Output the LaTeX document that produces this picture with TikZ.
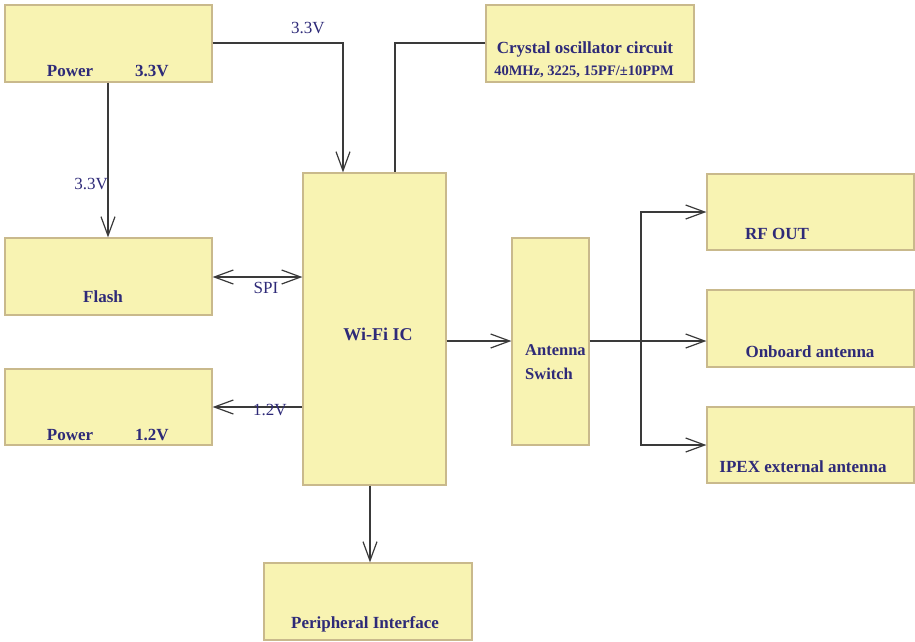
\documentclass[tikz,border=0pt]{standalone}
\usepackage{fontspec}
\setmainfont{Liberation Serif}
\usetikzlibrary{arrows.meta}
\definecolor{boxfill}{HTML}{F8F3B2}
\definecolor{boxline}{HTML}{C9B98C}
\definecolor{txt}{HTML}{2E2A78}
\definecolor{wire}{HTML}{3A3A3A}
\tikzset{
  blk/.style={draw=boxline, fill=boxfill, line width=1.2pt, inner sep=0pt},
  lbl/.style={text=txt, font=\bfseries\fontsize{17}{19}\selectfont, inner sep=0pt},
  wirelbl/.style={text=txt, font=\fontsize{17}{19}\selectfont, inner sep=0pt},
  wirestyle/.style={draw=wire, line width=1.2pt},
  tip/.style={-{Straight Barb[length=19pt,width=14pt]}},
  tips/.style={{Straight Barb[length=19pt,width=14pt]}-{Straight Barb[length=19pt,width=14pt]}},
}
\begin{document}
\begin{tikzpicture}[x=1pt,y=-1pt]
\useasboundingbox (0,0) rectangle (915,641);
% boxes
\node[blk, minimum width=207pt, minimum height=77pt] (pw33) at (108.5,43.5) {};
\node[blk, minimum width=208pt, minimum height=77pt] (xtal) at (590,43.5) {};
\node[blk, minimum width=143pt, minimum height=312pt] (wifi) at (374.5,329) {};
\node[blk, minimum width=207pt, minimum height=77pt] (flash) at (108.5,276.5) {};
\node[blk, minimum width=207pt, minimum height=76pt] (pw12) at (108.5,407) {};
\node[blk, minimum width=77pt, minimum height=207pt] (sw) at (550.5,341.5) {};
\node[blk, minimum width=207pt, minimum height=76pt] (rf) at (810.5,212) {};
\node[blk, minimum width=207pt, minimum height=77pt] (onb) at (810.5,328.5) {};
\node[blk, minimum width=207pt, minimum height=76pt] (ipex) at (810.5,445) {};
\node[blk, minimum width=208pt, minimum height=77pt] (per) at (368,601.5) {};
% box texts
\node[lbl] (t1) at (70,71) {Power};
\node[lbl] (t2) at (152,71) {3.3V};
\node[lbl] (t3) at (585,49) {Crystal oscillator circuit};
\node[lbl, font=\bfseries\fontsize{14.5}{16}\selectfont] (t4) at (584,72) {40MHz, 3225, 15PF/±10PPM};
\node[lbl, font=\bfseries\fontsize{18}{20}\selectfont] (t5) at (378,334) {Wi-Fi IC};
\node[lbl] (t6) at (103,297) {Flash};
\node[lbl] (t7) at (70,435) {Power};
\node[lbl] (t8) at (152,435) {1.2V};
\node[lbl, align=left, anchor=north west, font=\bfseries\fontsize{16.5}{24}\selectfont] (t9) at (525,344) {Antenna\\Switch};
\node[lbl] (t10) at (777,234) {RF OUT};
\node[lbl] (t11) at (810,352) {Onboard antenna};
\node[lbl] (t12) at (803,467) {IPEX external antenna};
\node[lbl] (t13) at (365,624) {Peripheral Interface};
% connectors
\coordinate (c1) at (343,43);
\draw[wirestyle, tip] (pw33.east |- c1) -- (c1) -- (c1 |- wifi.north);
\node[wirelbl] (l1) at (308,28) {3.3V};
\coordinate (c0) at (108,200);
\draw[wirestyle, tip] (c0 |- pw33.south) -- (c0 |- flash.north);
\node[wirelbl, anchor=east] (l2) at (108,184) {3.3V};
\coordinate (c2) at (395,43);
\draw[wirestyle] (xtal.west |- c2) -- (c2) -- (c2 |- wifi.north);
\coordinate (c3) at (250,277);
\draw[wirestyle, tips] (flash.east |- c3) -- (wifi.west |- c3);
\node[wirelbl] (l3) at (266,288) {SPI};
\coordinate (c4) at (250,407);
\draw[wirestyle, tip] (wifi.west |- c4) -- (pw12.east |- c4);
\node[wirelbl] (l4) at (270,410) {1.2V};
\coordinate (c5) at (480,341);
\draw[wirestyle, tip] (wifi.east |- c5) -- (sw.west |- c5);
\draw[wirestyle, tip] (sw.east |- c5) -- (onb.west |- c5);
\coordinate (c6) at (641,212);
\coordinate (c7) at (641,445);
\draw[wirestyle, tip] (c6 |- c5) -- (c6) -- (rf.west);
\draw[wirestyle, tip] (c6 |- c5) -- (c7) -- (ipex.west);
\draw[wirestyle, tip] (wifi.south -| 370,0) -- (per.north -| 370,0);
\end{tikzpicture}
\end{document}
